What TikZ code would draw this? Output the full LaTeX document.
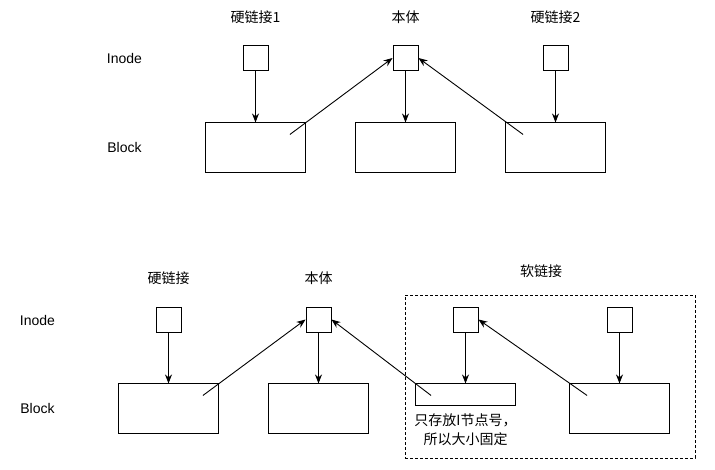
\documentclass[tikz,border=0pt]{standalone}
\usepackage{fontspec}
\setmainfont{Liberation Sans}
\newfontfamily\cjk{Noto Sans CJK SC}
\usetikzlibrary{positioning,arrows.meta}

\tikzset{
    inode/.style={draw, rectangle, minimum size=25pt, inner sep=0pt},
    blk/.style={draw, rectangle, minimum width=100pt, minimum height=50pt, inner sep=0pt},
    lbl/.style={inner sep=0pt, font=\cjk\fontsize{14}{19}\selectfont},
    arr/.style={-{Stealth[length=9pt,width=7pt]}},
}

\begin{document}
\begin{tikzpicture}[x=1pt, y=-1pt, line width=0.9pt, font=\fontsize{14}{17}\selectfont]
    \useasboundingbox (0,0) rectangle (715,470);

    % upper part: two hard links
    \node (inodeA) at (124.5,58) {Inode};
    \node (blockA) at (124.5,147) {Block};

    \node[inode] (hlA) at (255.5,58) {};
    \node[inode] (bodyA) at (405.5,58) {};
    \node[inode] (hlB) at (555.5,58) {};

    \node[lbl, above=21pt of hlA] (hlAlbl) {硬链接1};
    \node[lbl, above=21pt of bodyA] (bodyAlbl) {本体};
    \node[lbl, above=21pt of hlB] (hlBlbl) {硬链接2};

    \node[blk, below=51.5pt of hlA] (hlAblk) {};
    \node[blk, below=51.5pt of bodyA] (bodyAblk) {};
    \node[blk, below=51.5pt of hlB] (hlBblk) {};

    \coordinate[below left=12pt and 16pt of hlAblk.north east] (hlAsrc);
    \coordinate[below right=12pt and 18pt of hlBblk.north west] (hlBsrc);

    \draw[arr] (hlA) -- (hlAblk);
    \draw[arr] (bodyA) -- (bodyAblk);
    \draw[arr] (hlB) -- (hlBblk);
    \draw[arr] (hlAsrc) -- (bodyA.west);
    \draw[arr] (hlBsrc) -- (bodyA.east);

    % lower part: hard link and soft link
    \node (inodeB) at (37.5,320) {Inode};
    \node (blockB) at (37.5,408) {Block};

    \node[inode] (hlC) at (168.5,319.5) {};
    \node[inode] (bodyB) at (318.5,319.5) {};
    \node[inode] (slA) at (465.5,319.5) {};
    \node[inode] (slB) at (619.5,319.5) {};

    \node[lbl, above=21pt of hlC] (hlClbl) {硬链接};
    \node[lbl, above=21pt of bodyB] (bodyBlbl) {本体};

    \node[blk, below=51pt of hlC] (hlCblk) {};
    \node[blk, below=51pt of bodyB] (bodyBblk) {};
    \node[blk, minimum height=22pt, below=51pt of slA] (slAblk) {};
    \node[blk, below=51pt of slB] (slBblk) {};

    \node[lbl, align=center, below=7pt of slAblk] (note) {只存放I节点号，\\所以大小固定};

    \node[draw, dashed, dash pattern=on 3pt off 2pt, minimum width=290pt, minimum height=163pt] (softbox) at (550,376.5) {};
    \node[lbl] (softlbl) at (541,271) {软链接};

    \coordinate[below left=12pt and 16pt of hlCblk.north east] (hlCsrc);
    \coordinate[below right=12pt and 16pt of slAblk.north west] (slAsrc);
    \coordinate[below right=12pt and 18pt of slBblk.north west] (slBsrc);

    \draw[arr] (hlC) -- (hlCblk);
    \draw[arr] (bodyB) -- (bodyBblk);
    \draw[arr] (slA) -- (slAblk);
    \draw[arr] (slB) -- (slBblk);
    \draw[arr] (hlCsrc) -- (bodyB.west);
    \draw[arr] (slAsrc) -- (bodyB.east);
    \draw[arr] (slBsrc) -- (slA.east);
\end{tikzpicture}
\end{document}
